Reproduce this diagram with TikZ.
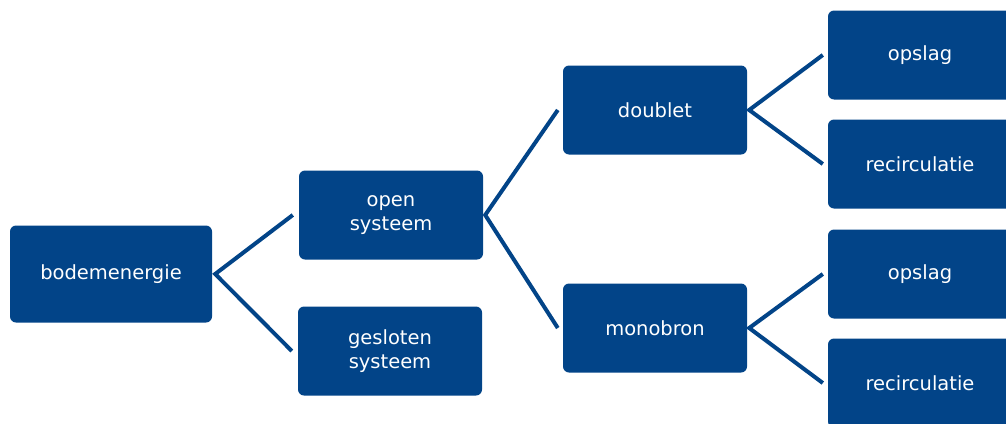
\documentclass[tikz,border=0pt]{standalone}
\usepackage{fontspec}
\setmainfont{DejaVu Sans}
\usetikzlibrary{positioning}
\definecolor{smartblue}{HTML}{024488}
\tikzset{
  blk/.style={rectangle,rounded corners=6pt,fill=smartblue,text=white,
              minimum width=184pt,minimum height=89pt,align=center,
              font=\fontsize{19.5}{24}\selectfont},
  branch/.style={draw=smartblue,line width=4pt}
}

\begin{document}
\begin{tikzpicture}[x=1pt,y=-1pt]
  \useasboundingbox (0,0) rectangle (1006,423);
  \node[blk, minimum width=202pt, minimum height=97pt] (bodem) at (111,274) {bodemenergie};
  \node[blk] (open) at (391,215) {open\\systeem};
  \node[blk] (gesloten) at (390,351) {gesloten\\systeem};
  \node[blk] (doublet) at (655,110) {doublet};
  \node[blk] (mono) at (655,328) {monobron};
  \node[blk] (opslagA) at (920,55) {opslag};
  \node[blk] (recircA) at (920,164) {recirculatie};
  \node[blk] (opslagB) at (920,274) {opslag};
  \node[blk] (recircB) at (920,383) {recirculatie};

  % Branches
  \draw[branch] ([xshift=-6pt]open.west) -- ([xshift=3pt]bodem.east) -- ([xshift=-6pt]gesloten.west);
  \draw[branch] ([xshift=-5pt]doublet.west) -- ([xshift=2pt]open.east) -- ([xshift=-5pt]mono.west);
  \draw[branch] ([xshift=-5pt]opslagA.west) -- ([xshift=2pt]doublet.east) -- ([xshift=-5pt]recircA.west);
  \draw[branch] ([xshift=-5pt]opslagB.west) -- ([xshift=2pt]mono.east) -- ([xshift=-5pt]recircB.west);
\end{tikzpicture}
\end{document}
